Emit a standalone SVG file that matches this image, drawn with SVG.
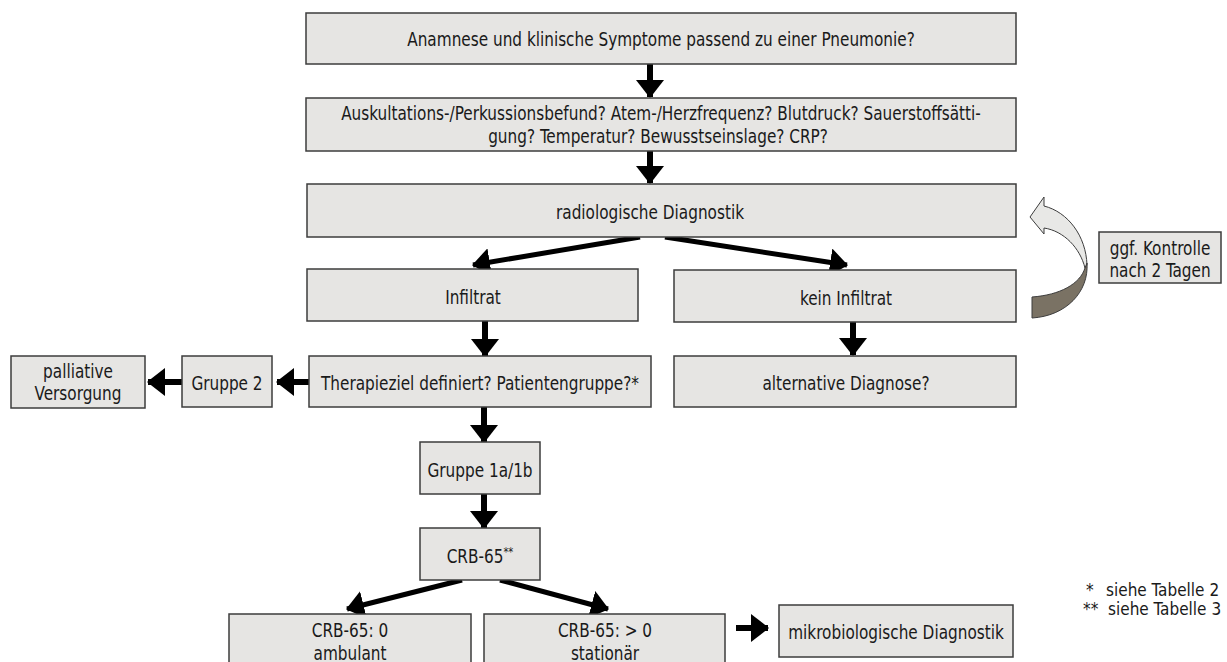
<svg xmlns="http://www.w3.org/2000/svg" width="1227" height="662" viewBox="0 0 1227 662">
<style>
.box{fill:#e6e5e3;stroke:#3c3c3c;stroke-width:1.5}
.t{font-family:"DejaVu Sans Condensed","Liberation Sans Narrow",sans-serif;font-stretch:condensed;font-size:20px;fill:#1a1a1a;text-anchor:middle}
.n{font-family:"DejaVu Sans Condensed","Liberation Sans Narrow",sans-serif;font-stretch:condensed;font-size:17px;fill:#1a1a1a}
.c{stroke:#000;stroke-width:6;fill:none;marker-end:url(#ah)}
.d{stroke:#000;stroke-width:5;fill:none;marker-end:url(#ah)}
</style>
<defs>
<marker id="ah" markerUnits="userSpaceOnUse" markerWidth="18" markerHeight="28" viewBox="0 0 18 28" refX="17" refY="14" orient="auto">
<path d="M0,0 L18,14 L0,28 Z" fill="#000"/>
</marker>
</defs>
<rect width="1227" height="662" fill="#fff"/>
<g id="connectors">
<line class="c" x1="650" y1="64" x2="650" y2="97"/>
<line class="c" x1="650" y1="151" x2="650" y2="183"/>
<line class="d" x1="640" y1="237" x2="473" y2="265"/>
<line class="d" x1="665" y1="237" x2="847" y2="265"/>
<line class="c" x1="485" y1="321" x2="485" y2="356"/>
<line class="c" x1="853" y1="322" x2="853" y2="355"/>
<line class="c" x1="309" y1="382" x2="277" y2="382"/>
<line class="c" x1="182" y1="382" x2="148" y2="382"/>
<line class="c" x1="484" y1="407" x2="484" y2="442"/>
<line class="c" x1="484" y1="494" x2="484" y2="528"/>
<line class="d" x1="462" y1="580" x2="347" y2="609"/>
<line class="d" x1="500" y1="580" x2="608" y2="609"/>
<line class="c" x1="736" y1="628" x2="768" y2="628"/>
</g>
<g id="curved-arrow">
<path d="M1030,217 L1044,197 L1044,206 C1068,212 1086,236 1087,265 L1085,268 C1080,248 1064,231 1044,228 L1044,234 Z" fill="#e8e8e6" stroke="#3c3c3c" stroke-width="1"/>
<path d="M1087,263 C1089,292 1066,316 1032,318 L1032,297 C1060,295 1080,284 1085,268 Z" fill="#7a7264" stroke="#3c3c3c" stroke-width="1"/>
</g>
<g id="n1"><rect class="box" x="306" y="13" width="710" height="51"/><text class="t" transform="translate(661,46) scale(0.85,1)">Anamnese und klinische Symptome passend zu einer Pneumonie?</text></g>
<g id="n2"><rect class="box" x="306" y="98" width="710" height="53"/><text class="t" transform="translate(661,120) scale(0.85,1)">Auskultations-/Perkussionsbefund? Atem-/Herzfrequenz? Blutdruck? Sauerstoffsätti-</text><text class="t" transform="translate(658,143) scale(0.85,1)">gung? Temperatur? Bewusstseinslage? CRP?</text></g>
<g id="n3"><rect class="box" x="307" y="184" width="709" height="53"/><text class="t" transform="translate(650,219) scale(0.85,1)">radiologische Diagnostik</text></g>
<g id="n4"><rect class="box" x="307" y="269" width="331" height="52"/><text class="t" transform="translate(473,304) scale(0.85,1)">Infiltrat</text></g>
<g id="n5"><rect class="box" x="674" y="270" width="342" height="52"/><text class="t" transform="translate(846,305) scale(0.85,1)">kein Infiltrat</text></g>
<g id="n6"><rect class="box" x="309" y="356" width="342" height="51"/><text class="t" transform="translate(480,390) scale(0.85,1)">Therapieziel definiert? Patientengruppe?*</text></g>
<g id="n7"><rect class="box" x="674" y="356" width="342" height="51"/><text class="t" transform="translate(846,390) scale(0.85,1)">alternative Diagnose?</text></g>
<g id="n8"><rect class="box" x="182" y="356" width="90" height="51"/><text class="t" transform="translate(227,390) scale(0.85,1)">Gruppe 2</text></g>
<g id="n9"><rect class="box" x="11" y="356" width="134" height="52"/><text class="t" transform="translate(78,378) scale(0.85,1)">palliative</text><text class="t" transform="translate(78,400) scale(0.85,1)">Versorgung</text></g>
<g id="n10"><rect class="box" x="420" y="442" width="120" height="52"/><text class="t" transform="translate(480,477) scale(0.85,1)">Gruppe 1a/1b</text></g>
<g id="n11"><rect class="box" x="420" y="528" width="120" height="52"/><text class="t" transform="translate(480,563) scale(0.85,1)">CRB-65<tspan font-size="13" dy="-7">**</tspan></text></g>
<g id="n12"><rect class="box" x="229" y="614" width="242" height="60"/><text class="t" transform="translate(350,637) scale(0.85,1)">CRB-65: 0</text><text class="t" transform="translate(350,660) scale(0.85,1)">ambulant</text></g>
<g id="n13"><rect class="box" x="484" y="614" width="241" height="60"/><text class="t" transform="translate(605,637) scale(0.85,1)">CRB-65: &gt; 0</text><text class="t" transform="translate(605,660) scale(0.85,1)">stationär</text></g>
<g id="n14"><rect class="box" x="779" y="605" width="234" height="52"/><text class="t" transform="translate(896,639) scale(0.85,1)">mikrobiologische Diagnostik</text></g>
<g id="n15"><rect class="box" x="1099" y="232" width="122" height="51"/><text class="t" transform="translate(1160,255) scale(0.85,1)">ggf. Kontrolle</text><text class="t" transform="translate(1160,277) scale(0.85,1)">nach 2 Tagen</text></g>
<g id="notes"><text class="n" x="1086" y="596">*</text><text class="n" x="1106" y="596">siehe Tabelle 2</text><text class="n" x="1083" y="615">**</text><text class="n" x="1108" y="615">siehe Tabelle 3</text></g>
</svg>
